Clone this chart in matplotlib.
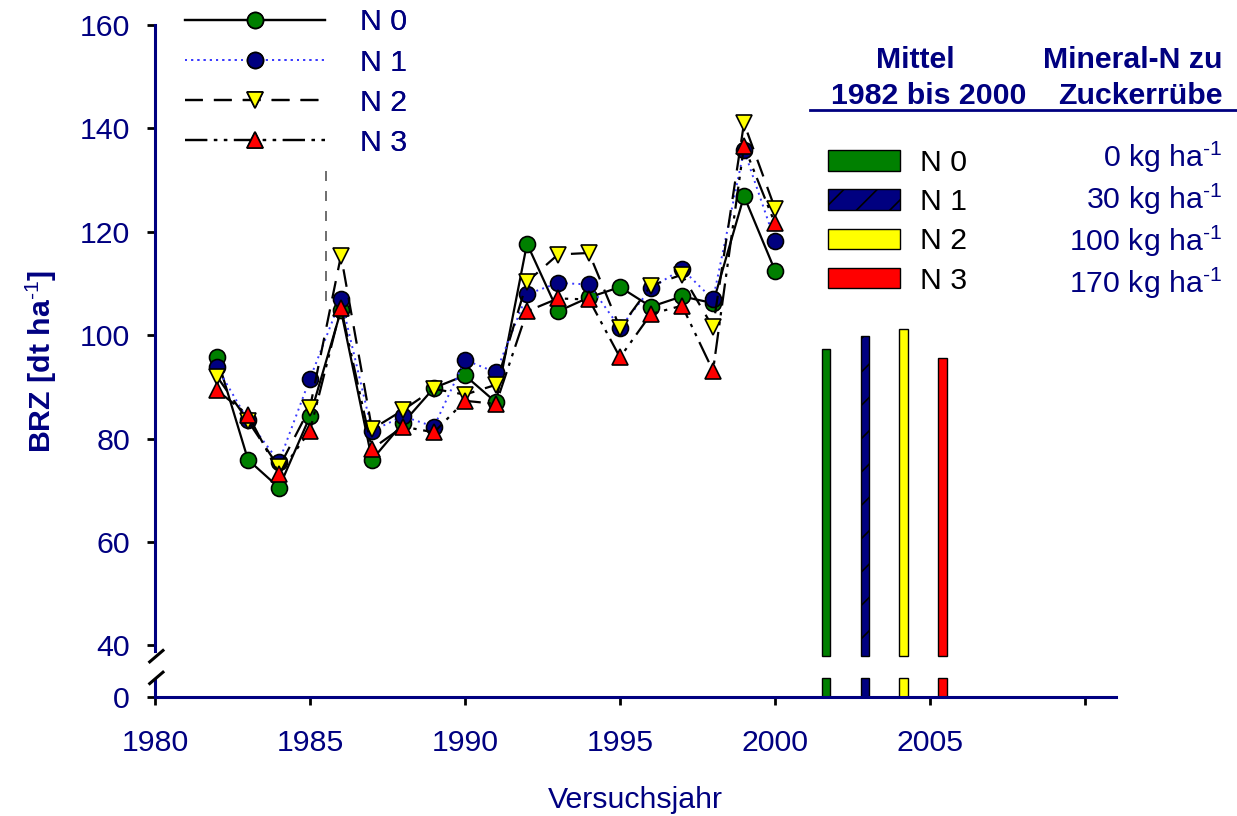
import matplotlib
matplotlib.use("Agg")
import matplotlib.pyplot as plt
import matplotlib.transforms as mtransforms
from matplotlib.lines import Line2D
from matplotlib.patches import Patch

plt.rcParams['font.family'] = ['Liberation Sans', 'DejaVu Sans']
plt.rcParams['mathtext.fontset'] = 'custom'
plt.rcParams['mathtext.rm'] = 'Liberation Sans'
plt.rcParams['mathtext.it'] = 'Liberation Sans:italic'
plt.rcParams['mathtext.bf'] = 'Liberation Sans:bold'
plt.rcParams['hatch.color'] = 'black'
plt.rcParams['hatch.linewidth'] = 1.2

# ---------------- data ----------------
years = list(range(1982, 2001))
n0 = [95.7, 75.9, 70.5, 84.3, 104.8, 75.9, 83.0, 89.8, 92.2, 87.0,
      117.7, 104.6, 107.3, 109.3, 105.5, 107.5, 106.2, 126.9, 112.5]
n1 = [93.8, 83.5, 75.5, 91.6, 107.0, 81.5, 84.3, 82.3, 95.2, 92.8,
      107.9, 110.1, 109.8, 101.4, 109.1, 112.8, 106.9, 135.8, 118.2]
n2 = [92.0, 83.4, 74.4, 86.0, 115.4, 81.8, 85.5, 89.6, 88.5, 90.4,
      110.3, 115.6, 115.9, 101.4, 109.6, 111.7, 101.5, 141.0, 124.5]
n3 = [89.3, 84.6, 73.2, 81.5, 105.3, 78.0, 82.3, 81.2, 87.3, 86.7,
      104.6, 107.1, 106.9, 95.7, 104.1, 105.7, 93.1, 136.6, 121.6]

series_labels = ['N 0', 'N 1', 'N 2', 'N 3']
mean_values = [97.4, 99.8, 101.1, 95.5]
dose_labels = [r'0 kg ha$^{\text{-1}}$', r'30 kg ha$^{\text{-1}}$',
               r'100 kg ha$^{\text{-1}}$', r'170 kg ha$^{\text{-1}}$']
ytick_values = [30, 40, 60, 80, 100, 120, 140, 160]
ytick_labels = ['0', '40', '60', '80', '100', '120', '140', '160']
xtick_values = [1980, 1985, 1990, 1995, 2000, 2005, 2010]
xtick_labels = ['1980', '1985', '1990', '1995', '2000', '2005', '']

NAVY = '#000080'
colors = ['#008000', '#000080', '#ffff00', '#ff0000']
markers = ['o', 'o', 'v', '^']
FS = 21.8

# ---------------- figure ----------------
W, H = 1237, 816
fig = plt.figure(figsize=(W / 100, H / 100), dpi=100)
ax = fig.add_axes([155 / W, 1 - 697 / H, (1116 - 155) / W, (697 - 25) / H])
ax.set_xlim(1980, 2011)
ax.set_ylim(30, 160)

lw = 1.6
styles = [
    dict(color='black', linestyle='-', linewidth=lw),
    dict(color='#3a3aff', linestyle=(0, (1, 2.2)), linewidth=1.4),
    dict(color='black', linestyle=(0, (8, 5)), linewidth=lw),
    dict(color='black', linestyle=(0, (10, 3, 1.5, 3, 1.5, 3)), linewidth=lw),
]
handles = []
for i, data in enumerate([n0, n1, n2, n3]):
    h, = ax.plot(years, data, marker=markers[i], markersize=11.5,
                 markerfacecolor=colors[i], markeredgecolor='black',
                 markeredgewidth=1.2, zorder=3 + i, **styles[i])
    handles.append(h)

# odd dashed vertical stroke present in the original
ax.vlines(1985.5, 106.7, 133, colors='#555555', linestyles=(0, (6, 6)),
          linewidth=1.2, zorder=2)

# mean bars (broken at the axis break)
bar_x = [2001.65 + 1.25 * i for i in range(4)]
bar_w = 0.27
for i, (x, m) in enumerate(zip(bar_x, mean_values)):
    hatch = '/' if i == 1 else None
    ax.bar(x, m - 38, bottom=38, width=bar_w, color=colors[i],
           edgecolor='black', linewidth=1, hatch=hatch, zorder=3)
    ax.bar(x, 33.6 - 30, bottom=30, width=bar_w, color=colors[i],
           edgecolor='black', linewidth=1, zorder=3)

# ---------------- axes styling ----------------
for s in ['top', 'right', 'left']:
    ax.spines[s].set_visible(False)
ax.spines['bottom'].set_color(NAVY)
ax.spines['bottom'].set_linewidth(2.2)
ax.spines['bottom'].set_zorder(10)

trans = mtransforms.blended_transform_factory(ax.transAxes, ax.transData)
ax.plot([0, 0], [38.9, 160], transform=trans, color=NAVY, lw=2.2,
        clip_on=False, zorder=10)
ax.plot([0, 0], [30, 33.4], transform=trans, color=NAVY, lw=2.2,
        clip_on=False, zorder=10)
# break marks
for y0, y1 in [(36.8, 39.0), (32.6, 34.8)]:
    ax.plot([-0.0055, 0.0083], [y0, y1], transform=trans, color='black',
            lw=2.2, clip_on=False, zorder=11)

ax.set_yticks(ytick_values)
ax.set_yticklabels(ytick_labels)
ax.set_xticks(xtick_values)
ax.set_xticklabels(xtick_labels)
ax.tick_params(axis='y', direction='out', length=6, width=2, color='black',
               labelcolor=NAVY, labelsize=FS, pad=12)
ax.tick_params(axis='x', direction='out', length=6, width=2, color='black',
               labelcolor=NAVY, labelsize=FS, pad=17)

ax.set_ylabel(r'BRZ [dt ha$^{\text{-1}}$]', fontsize=FS,
              fontweight='bold', color=NAVY)
ax.yaxis.set_label_coords(-0.100, 0.5)
ax.set_xlabel('Versuchsjahr', fontsize=FS, color=NAVY)
ax.xaxis.set_label_coords(0.5, -0.132)

# ---------------- line legend ----------------
leg1 = ax.legend(handles, series_labels, loc='upper left',
                 bbox_to_anchor=(185 / W, 1 - 8.5 / H),
                 bbox_transform=fig.transFigure, frameon=False,
                 fontsize=FS, handlelength=4.62, handletextpad=1.15,
                 labelspacing=0.40, borderpad=0, borderaxespad=0,
                 numpoints=1)
for t in leg1.get_texts():
    t.set_color(NAVY)
ax.add_artist(leg1)

# ---------------- bar legend ----------------
patches = [Patch(facecolor=c, edgecolor='black', linewidth=1,
                 hatch=('/' if i == 1 else None))
           for i, c in enumerate(colors)]
leg2 = fig.legend(patches, series_labels, loc='upper left',
                  bbox_to_anchor=(828 / W, 1 - 149 / H),
                  frameon=False, fontsize=FS, handlelength=2.38,
                  handleheight=0.66, handletextpad=0.66,
                  labelspacing=0.37, borderpad=0, borderaxespad=0)
for t in leg2.get_texts():
    t.set_color('black')

for i, lab in enumerate(dose_labels):
    fig.text(1222 / W, 1 - (157 + 42 * i) / H, lab, ha='right',
             va='center', fontsize=FS, color=NAVY)

# ---------------- headers ----------------
fig.text(915 / W, 1 - 60 / H, 'Mittel', ha='center', va='center',
         fontsize=FS, fontweight='bold', color=NAVY)
fig.text(929 / W, 1 - 96 / H, '1982 bis 2000', ha='center', va='center',
         fontsize=FS, fontweight='bold', color=NAVY)
fig.text(1133 / W, 1 - 60 / H, 'Mineral-N zu', ha='center', va='center',
         fontsize=FS, fontweight='bold', color=NAVY)
fig.text(1140 / W, 1 - 96 / H, 'Zuckerrübe', ha='center', va='center',
         fontsize=FS, fontweight='bold', color=NAVY)
fig.add_artist(Line2D([810 / W, 1.0], [1 - 110 / H, 1 - 110 / H],
                      transform=fig.transFigure, color=NAVY, lw=2))

fig.savefig('out.png', dpi=100)
